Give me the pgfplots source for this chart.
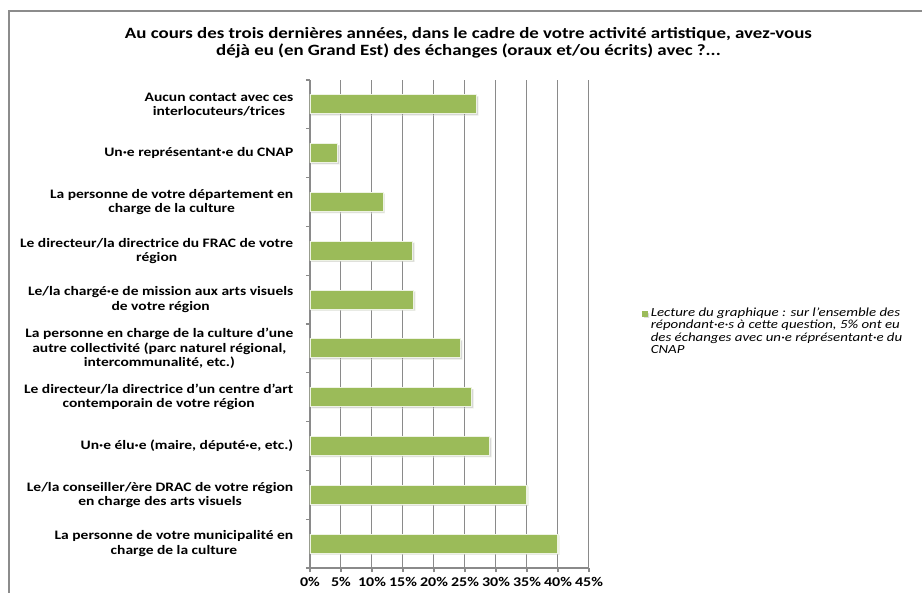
\documentclass[border=0pt]{standalone}
\usepackage{fontspec}
\setmainfont[FakeStretch=1.2]{Carlito}
\usepackage{pgfplots}
\pgfplotsset{compat=1.18}
\usetikzlibrary{shadows}
\definecolor{bargreen}{HTML}{9BBB59}
\definecolor{barline}{HTML}{EEF3E4}
\definecolor{framegray}{HTML}{8C8C8C}
\definecolor{gridgray}{HTML}{8A8A8A}

\begin{document}
\begin{tikzpicture}[x=0.75pt,y=0.75pt]
% picture in pixel units of the reference (922 x 593)
\useasboundingbox (0,0) rectangle (922,593);
\draw[framegray, line width=1.5] (9,-5) -- (9,582) -- (927,582);
\node[font=\bfseries\fontsize{11.8}{12.6}\selectfont, align=center] at (468.5,550.5)
  {Au cours des trois dernières années, dans le cadre de votre activité artistique, avez-vous\\
   déjà eu (en Grand Est) des échanges (oraux et/ou écrits) avec ?...};
\begin{axis}[
  at={(232.5pt,18.75pt)}, anchor=south west,
  scale only axis,
  width=209.25pt, height=366pt,
  xbar,
  bar width=14.25pt,
  xmin=0, xmax=45,
  ymin=-0.5, ymax=9.5,
  axis x line*=bottom,
  axis y line*=left,
  axis line style={gridgray, line width=0.9pt, -},
  xtick={0,5,...,45},
  xticklabels={0\%,5\%,10\%,15\%,20\%,25\%,30\%,35\%,40\%,45\%},
  xmajorgrids,
  grid style={gridgray, line width=0.75pt},
  ytick={0,...,9},
  minor ytick={-0.5,0.5,...,9.5},
  major tick length=0pt,
  minor tick length=3pt,
  tick align=outside,
  tick style={gridgray, line width=0.8pt},
  extra x ticks={0,5,...,45},
  extra x tick labels={},
  extra x tick style={major tick length=3pt, grid=none},
  /pgf/number format/assume math mode=true,
  xticklabel style={font=\bfseries\fontsize{10}{10}\selectfont, yshift=-3.5pt},
  yticklabel style={font=\bfseries\fontsize{9.7}{10.7}\selectfont, align=center, xshift=-9pt},
  yticklabels={
    {La personne de votre municipalité en\\charge de la culture},
    {Le/la conseiller/ère DRAC de votre région\\en charge des arts visuels},
    {Un·e élu·e (maire, député·e, etc.)},
    {Le directeur/la directrice d’un centre d’art\\contemporain de votre région},
    {La personne en charge de la culture d’une\\autre collectivité (parc naturel régional,\\intercommunalité, etc.)},
    {Le/la chargé·e de mission aux arts visuels\\de votre région},
    {Le directeur/la directrice du FRAC de votre\\région},
    {La personne de votre département en\\charge de la culture},
    {Un·e représentant·e du CNAP},
    {Aucun contact avec ces\\interlocuteurs/trices}
  },
  legend style={at={(1.19,0.54)}, anchor=north west, draw=none, fill=none,
    font=\itshape\fontsize{9.3}{9.4}\selectfont,
    cells={align=left, inner sep=0.6pt}, inner sep=0pt, column sep=0pt},
  legend image code/.code={\fill[bargreen] (0pt,11.4pt) rectangle (3.6pt,14.8pt);},
]
% values in percent, bottom category first
\addplot[fill=bargreen, draw=barline, line width=0.8pt,
  drop shadow={shadow xshift=1.1pt, shadow yshift=-1.1pt, fill=black!45, opacity=0.35}]
  coordinates {
  (40.0,0)
  (35.0,1)
  (29.0,2)
  (26.1,3)
  (24.3,4)
  (16.7,5)
  (16.6,6)
  (11.8,7)
  (4.5,8)
  (26.9,9)
};
\addlegendentry{Lecture du graphique : sur l’ensemble des\\répondant·e·s à cette question, 5\% ont eu\\des échanges avec un·e réprésentant·e du\\CNAP}
\end{axis}
\end{tikzpicture}
\end{document}
